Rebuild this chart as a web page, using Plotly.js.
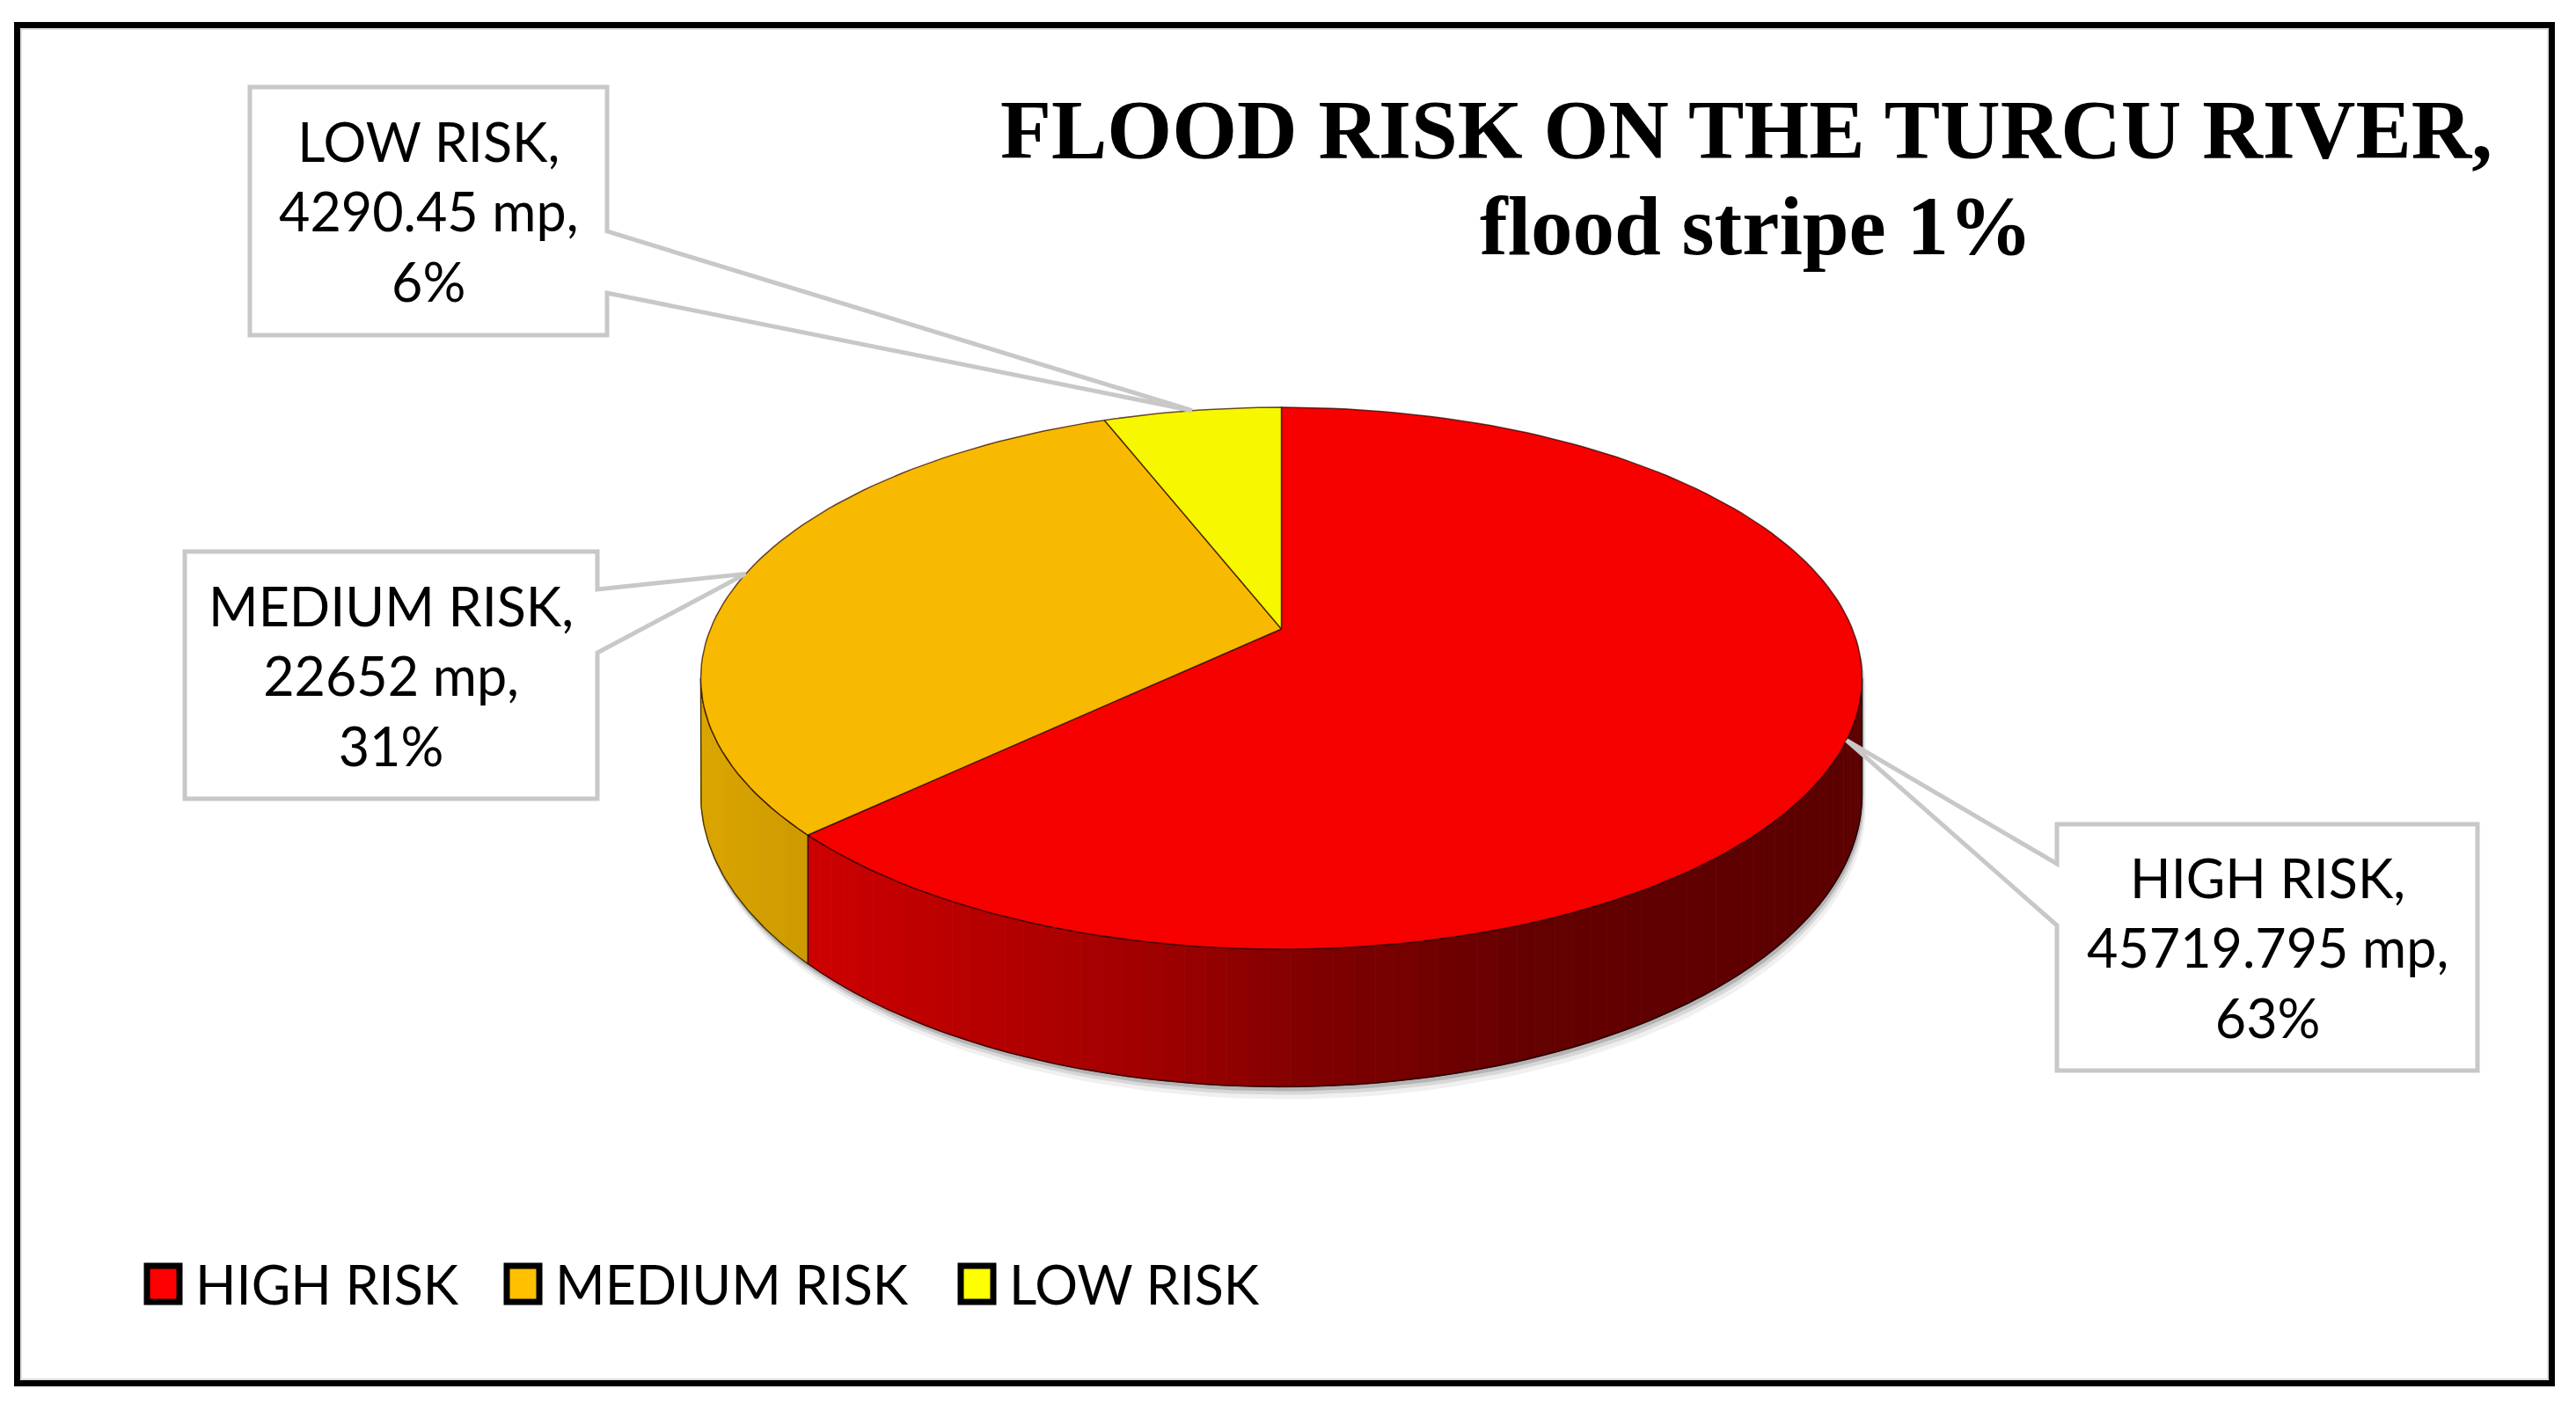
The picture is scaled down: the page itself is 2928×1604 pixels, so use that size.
<!DOCTYPE html>
<html>
<head>
<meta charset="utf-8">
<script src="https://cdn.plot.ly/plotly-3.0.1.min.js"></script>
<style>
  html, body { margin: 0; padding: 0; background: #ffffff; }
  #graficoContainer { width: 2928px; height: 1604px; }
</style>
</head>
<body>
<div id="graficoContainer"></div>
<script>
// ============================================
// QUÉ HACE: Tarta 3D (riesgo de inundación, río Turcu) dibujada con Plotly
// La tarta se construye con polígonos scatter sobre ejes en píxeles
// ============================================

// --- Datos ---
const categorias = ['HIGH RISK', 'MEDIUM RISK', 'LOW RISK'];
const valores = [45719.795, 22652, 4290.45];
const unidad = 'mp';
const colores = ['#ff0000', '#ffc000', '#ffff00'];
const tituloLinea1 = 'FLOOD RISK ON THE TURCU RIVER,';
const tituloLinea2 = 'flood stripe 1%';

// --- Geometría (posición y tamaño de la tarta en píxeles) ---
const W = 2928, H = 1604;
const CX = 1456.5, CY = 715;     // vértice de la tarta
const RX = 649, RY = 297.8;      // radios de la cara superior
const PERSP = 0.182;             // perspectiva (lado lejano más pequeño)
const PROF = 128;                // grosor de la tarta

// cajas de etiquetas (mismo orden que categorias)
const cajas = [
    { x0: 2338, x1: 2816, y0: 937, y1: 1217, lado: 'izq', n0: 982, n1: 1052 },
    { x0: 210, x1: 679, y0: 627, y1: 908, lado: 'der', n0: 670, n1: 742 },
    { x0: 284, x1: 690, y0: 99, y1: 381, lado: 'der', n0: 263, n1: 333 }
];
const leyendaX = [164, 573, 1089];
const leyendaY = 1459;

const FUENTE = 'Lato, "Open Sans", sans-serif';
const TAM_TEXTO = 61;

function proyectar(phi, prof) {
    const u = Math.sin(phi), v = Math.cos(phi);
    const w = 1 + PERSP * v;
    return [CX + RX * u / w, CY + (prof - RY * v) / w];
}

function arco(a0, a1, prof, n) {
    const xs = [], ys = [];
    for (let i = 0; i <= n; i++) {
        const p = proyectar(a0 + (a1 - a0) * i / n, prof);
        xs.push(p[0]);
        ys.push(p[1]);
    }
    return { x: xs, y: ys };
}

function hexRgb(hex) {
    const n = parseInt(hex.slice(1), 16);
    return [(n >> 16) & 255, (n >> 8) & 255, n & 255];
}

function oscurecer(hex, f) {
    const c = hexRgb(hex).map(v => Math.round(v * f));
    return `rgb(${c[0]},${c[1]},${c[2]})`;
}

// degradado del lateral: claro a la izquierda, oscuro a la derecha
const paradas = [[0, 0.86], [0.1, 0.8], [0.38, 0.63], [0.53, 0.5], [0.72, 0.39], [1, 0.36]];
function factorLateral(t) {
    for (let i = 1; i < paradas.length; i++) {
        if (t <= paradas[i][0]) {
            const [t0, f0] = paradas[i - 1], [t1, f1] = paradas[i];
            return f0 + (f1 - f0) * (t - t0) / (t1 - t0);
        }
    }
    return paradas[paradas.length - 1][1];
}

// ángulos de cada porción (sentido horario desde las 12)
const total = valores.reduce((a, b) => a + b, 0);
const angulos = [];
let acum = 0;
valores.forEach(v => {
    const a0 = acum / total * 2 * Math.PI;
    acum += v;
    angulos.push([a0, acum / total * 2 * Math.PI]);
});

const phiL = Math.acos(-PERSP), phiR = 2 * Math.PI - phiL;
const xMin = CX - RX / Math.sqrt(1 - PERSP * PERSP);
const xMax = CX + RX / Math.sqrt(1 - PERSP * PERSP);

const trazas = [];

// sombra suave bajo la tarta
[[14, 0.06], [9, 0.1], [5, 0.16]].forEach(([d, op]) => {
    const inf = arco(phiL, phiR, PROF, 80);
    const sup = arco(phiR, phiL + 2 * Math.PI, 0, 80);
    trazas.push({
        type: 'scatter', mode: 'lines', fill: 'toself',
        x: inf.x.concat(sup.x).map(x => x + d * 0.3),
        y: inf.y.concat(sup.y).map(y => y + d),
        fillcolor: `rgba(0,0,0,${op})`, line: { width: 0 },
        hoverinfo: 'skip', showlegend: false
    });
});

// laterales (tiras para el degradado)
angulos.forEach(([a0, a1], i) => {
    const s = Math.max(a0, phiL), e = Math.min(a1, phiR);
    if (s >= e) return;
    const n = Math.ceil((e - s) / (phiR - phiL) * 90);
    for (let k = 0; k < n; k++) {
        const b0 = s + (e - s) * k / n;
        const b1 = s + (e - s) * (k + 1) / n;
        const sup = arco(b0, b1, 0, 3);
        const inf = arco(b1, b0, PROF, 3);
        const xm = proyectar((b0 + b1) / 2, 0)[0];
        const col = oscurecer(colores[i], factorLateral((xm - xMin) / (xMax - xMin)));
        trazas.push({
            type: 'scatter', mode: 'lines', fill: 'toself',
            x: sup.x.concat(inf.x), y: sup.y.concat(inf.y),
            fillcolor: col, line: { width: 1, color: col },
            hoverinfo: 'skip', showlegend: false
        });
    }
    // contorno del lateral
    const sup = arco(s, e, 0, 60);
    const inf = arco(e, s, PROF, 60);
    trazas.push({
        type: 'scatter', mode: 'lines',
        x: sup.x.concat(inf.x, [sup.x[0]]), y: sup.y.concat(inf.y, [sup.y[0]]),
        line: { width: 1.5, color: 'rgba(0,0,0,0.65)' },
        hoverinfo: 'skip', showlegend: false
    });
});

// caras superiores
angulos.forEach(([a0, a1], i) => {
    const n = Math.max(8, Math.ceil((a1 - a0) / (2 * Math.PI) * 240));
    const a = arco(a0, a1, 0, n);
    trazas.push({
        type: 'scatter', mode: 'lines', fill: 'toself',
        x: [CX].concat(a.x, [CX]), y: [CY].concat(a.y, [CY]),
        fillcolor: oscurecer(colores[i], 0.97),
        line: { width: 1.5, color: 'rgba(40,0,0,0.7)' },
        name: categorias[i], hoverinfo: 'name', showlegend: false
    });
});

// --- Etiquetas con globo (callout) ---
const shapes = [];
const annotations = [];

angulos.forEach(([a0, a1], i) => {
    const c = cajas[i];
    const [tx, ty] = proyectar((a0 + a1) / 2, 0);
    let path;
    if (c.lado === 'der') {
        path = `M${c.x0},${c.y0} L${c.x1},${c.y0} L${c.x1},${c.n0} L${tx},${ty} L${c.x1},${c.n1} L${c.x1},${c.y1} L${c.x0},${c.y1} Z`;
    } else {
        path = `M${c.x0},${c.y0} L${c.x1},${c.y0} L${c.x1},${c.y1} L${c.x0},${c.y1} L${c.x0},${c.n1} L${tx},${ty} L${c.x0},${c.n0} Z`;
    }
    shapes.push({
        type: 'path', xref: 'x', yref: 'y', path: path,
        line: { color: '#c8c8c8', width: 5 }, fillcolor: 'rgba(0,0,0,0)', layer: 'above'
    });
    const pct = Math.round(valores[i] / total * 100);
    annotations.push({
        xref: 'x', yref: 'y', x: (c.x0 + c.x1) / 2, y: (c.y0 + c.y1) / 2,
        xanchor: 'center', yanchor: 'middle', showarrow: false, align: 'center',
        text: `${categorias[i]},<br>${valores[i]} ${unidad},<br>${pct}%`,
        font: { family: FUENTE, size: TAM_TEXTO, color: '#000000' }
    });
});

// --- Leyenda (cuadros grandes, como en el original) ---
categorias.forEach((cat, i) => {
    const x = leyendaX[i];
    shapes.push({
        type: 'rect', xref: 'x', yref: 'y',
        x0: x + 3, x1: x + 40, y0: leyendaY - 20, y1: leyendaY + 21,
        fillcolor: colores[i], line: { color: '#000000', width: 7 }
    });
    annotations.push({
        xref: 'x', yref: 'y', x: x + 56, y: leyendaY,
        xanchor: 'left', yanchor: 'middle', showarrow: false,
        text: cat, font: { family: FUENTE, size: TAM_TEXTO, color: '#000000' }
    });
});

// segunda línea del título
annotations.push({
    xref: 'x', yref: 'y', x: 1996, y: 257, xanchor: 'center', yanchor: 'middle',
    showarrow: false, text: tituloLinea2,
    font: { family: '"Liberation Serif", serif', size: 95, color: '#000000', weight: 'bold' }
});

// marco exterior
shapes.push({
    type: 'rect', xref: 'x', yref: 'y', x0: 19.5, x1: 2900.5, y0: 28.5, y1: 1572.5,
    line: { color: '#000000', width: 7 }, layer: 'above'
});
shapes.push({
    type: 'rect', xref: 'x', yref: 'y', x0: 24, x1: 2896, y0: 33, y1: 1568,
    line: { color: '#bdbdbd', width: 1 }, layer: 'above'
});

const layout = {
    width: W, height: H,
    margin: { l: 0, r: 0, t: 0, b: 0 },
    paper_bgcolor: '#ffffff', plot_bgcolor: '#ffffff',
    title: {
        text: tituloLinea1,
        font: { family: '"Liberation Serif", serif', size: 95, color: '#000000', weight: 'bold' },
        xref: 'container', yref: 'container',
        x: 1985 / W, xanchor: 'center',
        y: 1 - 147 / H, yanchor: 'middle'
    },
    xaxis: { range: [0, W], visible: false, fixedrange: true },
    yaxis: { range: [H, 0], visible: false, fixedrange: true },
    showlegend: false,
    shapes: shapes,
    annotations: annotations
};

const config = { displayModeBar: false, responsive: false, staticPlot: true };

Plotly.newPlot('graficoContainer', trazas, layout, config);
</script>
</body>
</html>
